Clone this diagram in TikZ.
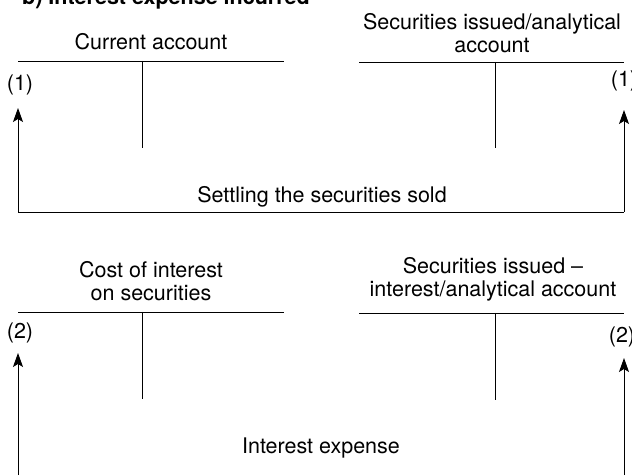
\documentclass[tikz,border=0pt]{standalone}
\usepackage{fontspec}
\setmainfont{TeX Gyre Heros}
\usetikzlibrary{arrows.meta}
\begin{document}
\begin{tikzpicture}[
  lbl/.style={font=\fontsize{21.5}{23}\selectfont, inner sep=0pt, align=center},
  ttl/.style={font=\fontsize{21.5}{23}\selectfont\bfseries, inner sep=0pt},
  tline/.style={line width=0.9pt},
  conn/.style={line width=0.9pt, -{Stealth[length=14pt,width=10pt,inset=3pt]}},
  num/.style={font=\fontsize{21.5}{23}\selectfont, inner sep=0pt}]
\begin{scope}[x=1pt,y=-1pt]
\useasboundingbox (0,0) rectangle (632,459);
\clip (0,0) rectangle (632,459);
\node[ttl, anchor=base west] (title) at (22,5) {b) Interest expense incurred};
% upper left T
\coordinate (ul1) at (18,61); \coordinate (ul2) at (284,61);
\coordinate (ulv1) at (142,61); \coordinate (ulv2) at (142,148);
\draw[tline] (ul1) -- (ul2); \draw[tline] (ulv1) -- (ulv2);
\node[lbl, anchor=base] (caacc) at (151,50) {Current account};
% upper right T
\coordinate (ur1) at (359,62); \coordinate (ur2) at (624,62);
\coordinate (urv1) at (495,62); \coordinate (urv2) at (495,148);
\draw[tline] (ur1) -- (ur2); \draw[tline] (urv1) -- (urv2);
\node[lbl, anchor=south] (secacc) at (492,53) {Securities issued/analytical\\account};
% numbers
\node[num] (n1l) at (20,85) {(1)};
\node[num] (n1r) at (624,81) {(1)};
\node[num] (n2l) at (20,333) {(2)};
\node[num] (n2r) at (622,337) {(2)};
% settlement connector
\coordinate (a1l) at (18,108); \coordinate (a1r) at (624,110);
\coordinate (c1l) at (18,212); \coordinate (c1r) at (624,212);
\draw[tline] (c1l) -- (c1r);
\node[lbl, anchor=base] (settle) at (322,203) {Settling the securities sold};
% lower left T
\coordinate (ll1) at (18,312); \coordinate (ll2) at (284,312);
\coordinate (llv1) at (142,312); \coordinate (llv2) at (142,399);
\draw[tline] (ll1) -- (ll2); \draw[tline] (llv1) -- (llv2);
\node[lbl, anchor=south] (costacc) at (151,301) {Cost of interest\\on securities};
% lower right T
\coordinate (lr1) at (359,313); \coordinate (lr2) at (624,313);
\coordinate (lrv1) at (495,313); \coordinate (lrv2) at (495,400);
\draw[tline] (lr1) -- (lr2); \draw[tline] (lrv1) -- (lrv2);
\node[lbl, anchor=south] (secint) at (493,301) {Securities issued --\\interest/analytical account};
% interest connector
\coordinate (a2l) at (18,353); \coordinate (a2r) at (624,358);
\coordinate (c2l) at (18,475); \coordinate (c2r) at (624,475);
\draw[tline] (c2l) -- (c2r);
\node[lbl, anchor=base] (intexp) at (321,453) {Interest expense};
\end{scope}
\draw[conn] (c1r) -- (a1r);
\draw[conn] (c1l) -- (a1l);
\draw[conn] (c2l) -- (a2l);
\draw[conn] (c2r) -- (a2r);
\end{tikzpicture}
\end{document}
